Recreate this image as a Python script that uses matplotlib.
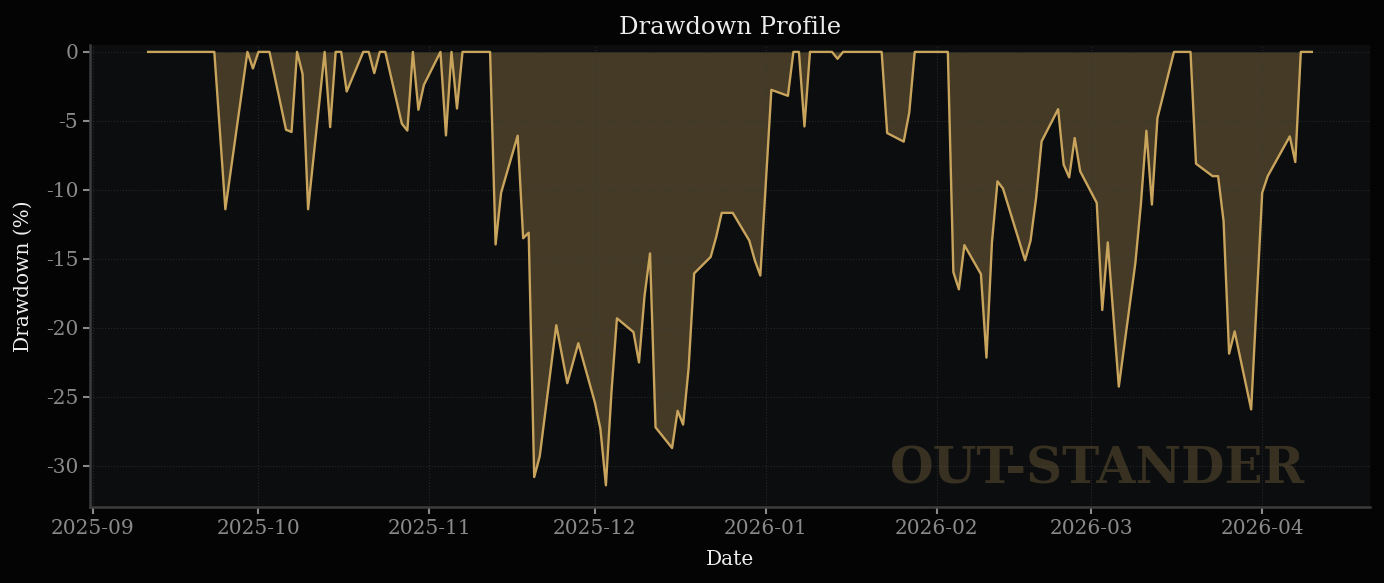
import numpy as np
import pandas as pd
import matplotlib
matplotlib.use("Agg")
import matplotlib.pyplot as plt
import matplotlib.dates as mdates

# ── Data: drawdown (%) at each turning point, day offset from 2025-09-01 ──
day_offsets = [
    10, 22, 24, 28, 29, 30, 32, 35, 36, 37, 38, 39, 42, 43, 44, 45, 46, 49, 50,
    51, 52, 53, 56, 57, 58, 59, 60, 63, 64, 65, 66, 67, 72, 73, 74, 77, 78, 79,
    80, 81, 84, 86, 88, 91, 92, 93, 94, 95, 98, 99, 100, 101, 102, 105, 106,
    107, 108, 109, 112, 113, 114, 116, 119, 120, 121, 123, 126, 127, 128, 129,
    130, 134, 135, 136, 143, 144, 147, 148, 149, 155, 156, 157, 158, 161, 162,
    163, 164, 165, 169, 170, 171, 172, 175, 176, 177, 178, 179, 182, 183, 184,
    186, 189, 190, 191, 192, 193, 196, 199, 200, 203, 204, 205, 206, 207, 210,
    212, 213, 217, 218, 219, 221,
]
drawdown = [
    0, 0, -11.4, 0, -1.2, 0, 0, -5.64, -5.8, 0, -1.6, -11.4, 0, -5.45, 0, 0,
    -2.87, 0, 0, -1.54, 0, 0, -5.2, -5.7, 0, -4.19, -2.39, 0, -6.05, 0, -4.1,
    0, 0, -13.95, -10.2, -6.07, -13.5, -13.1, -30.8, -29.3, -19.8, -24.0,
    -21.1, -25.4, -27.3, -31.4, -24.7, -19.3, -20.3, -22.5, -17.7, -14.6,
    -27.2, -28.7, -26.0, -27.0, -22.9, -16.05, -14.85, -13.4, -11.66, -11.66,
    -13.67, -15.1, -16.2, -2.75, -3.18, 0, 0, -5.4, 0, 0, -0.5, 0, 0, -5.88,
    -6.5, -4.4, 0, 0, -15.95, -17.2, -14.0, -16.1, -22.15, -13.8, -9.38, -9.9,
    -15.1, -13.67, -10.6, -6.48, -4.15, -8.17, -9.09, -6.24, -8.65, -10.94,
    -18.7, -13.8, -24.25, -15.3, -11.06, -5.71, -11.06, -4.8, 0, 0, -8.1,
    -9.0, -9.0, -12.27, -21.86, -20.25, -25.9, -10.2, -9.0, -6.12, -7.98, 0, 0,
]
dates = pd.Timestamp("2025-09-01") + pd.to_timedelta(day_offsets, unit="D")
dd = np.array(drawdown)

# ── Style ────────────────────────────────────────────────────────────────
gold = "#c9a45c"
fig_bg = "#040404"
ax_bg = "#0b0d0f"

plt.rcParams.update({
    "font.family": "DejaVu Serif",
    "axes.unicode_minus": False,
})

fig = plt.figure(figsize=(13.84, 5.83), dpi=100, facecolor=fig_bg)
ax = fig.add_axes([0.065, 0.1304, 0.9249, 0.7924])
ax.set_facecolor(ax_bg)

ax.fill_between(dates, dd, 0, color=gold, alpha=0.3, linewidth=0)
ax.plot(dates, dd, color=gold, lw=1.7)

ax.set_ylim(dd.min() * 1.05, 0.5)
ax.set_yticks([0, -5, -10, -15, -20, -25, -30])
ax.xaxis.set_major_locator(mdates.MonthLocator())
ax.xaxis.set_major_formatter(mdates.DateFormatter("%Y-%m"))

ax.grid(True, color="#3a3a3a", linestyle=":", linewidth=0.8, alpha=0.6)
for s in ["top", "right"]:
    ax.spines[s].set_visible(False)
for s in ["left", "bottom"]:
    ax.spines[s].set_color("#3c3c3c")
    ax.spines[s].set_linewidth(1.8)
ax.tick_params(colors="#8a8a8a", labelsize=14.5, length=5, width=1.5)

ax.set_title("Drawdown Profile", color="#ededed", fontsize=17.5, pad=8)
ax.set_xlabel("Date", color="#ededed", fontsize=14.5, labelpad=9)
ax.set_ylabel("Drawdown (%)", color="#ededed", fontsize=14.5, labelpad=9)

ax.text(0.949, 0.08, "OUT-STANDER", transform=ax.transAxes, ha="right",
        va="center", fontsize=36, fontweight="bold", color=gold, alpha=0.24)

fig.savefig("out.png", dpi=100, facecolor=fig_bg)
